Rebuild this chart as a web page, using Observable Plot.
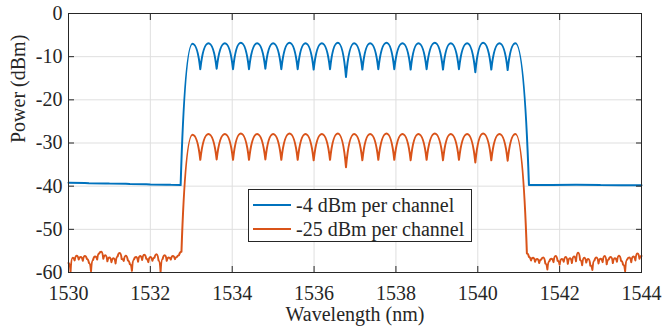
<!DOCTYPE html>
<html>
<head>
<meta charset="utf-8">
<script src="https://cdn.jsdelivr.net/npm/d3@7"></script>
<script src="https://cdn.jsdelivr.net/npm/@observablehq/plot@0.6"></script>
<style>
  html, body { margin: 0; padding: 0; background: #fff; }
  #wrap { position: relative; width: 664px; height: 332px; font-family: "Liberation Serif", "Times New Roman", Tinos, "DejaVu Serif", serif; }
  #chart svg, #chart svg text { font-family: "Liberation Serif", "Times New Roman", Tinos, "DejaVu Serif", serif !important; }
  #legend { position: absolute; left: 248px; top: 189px; width: 224px; height: 53px; border: 1px solid #262626; background: #fff; box-sizing: border-box; font-size: 20px; color: #262626; }
  .row { position: absolute; left: 0; height: 24px; display: flex; align-items: center; white-space: nowrap; }
  .sw { width: 38px; height: 0; border-top: 2px solid; margin-left: 4px; margin-right: 5px; }
</style>
</head>
<body>
<div id="wrap">
  <div id="chart"></div>
  <div id="legend"></div>
</div>
<script>
// ---- Data ----
const seriesNames = ["-4 dBm per channel", "-25 dBm per channel"];
const seriesColors = ["#0072BD", "#D95319"];
const xTicks = [1530, 1532, 1534, 1536, 1538, 1540, 1542, 1544];
const yTicks = [-60, -50, -40, -30, -20, -10, 0];

// channel peaks (50 GHz grid) and dips between them, nm
const peakWl = [1533.03, 1533.42, 1533.82, 1534.21, 1534.61, 1535.00, 1535.40, 1535.79, 1536.19, 1536.58, 1536.98,
                1537.37, 1537.77, 1538.16, 1538.55, 1538.95, 1539.34, 1539.74, 1540.13, 1540.53, 1540.92];
const dipWl = [1533.22, 1533.62, 1534.02, 1534.41, 1534.81, 1535.20, 1535.60, 1535.99, 1536.39, 1536.78,
               1537.18, 1537.57, 1537.96, 1538.36, 1538.75, 1539.15, 1539.54, 1539.94, 1540.33, 1540.73];

const bluePeak = [-7.0, -6.9, -6.9, -6.8, -6.9, -6.9, -6.8, -6.9, -6.9, -6.8, -6.9,
                  -6.9, -6.8, -6.9, -6.9, -6.8, -6.9, -6.9, -6.8, -6.9, -6.9];
const blueDip = [-12.9, -12.8, -12.9, -12.9, -12.8, -12.9, -12.9, -13.0, -12.9, -14.7,
                 -13.0, -12.9, -12.9, -13.0, -12.9, -13.0, -12.9, -13.6, -13.0, -13.1];
const orangePeak = [-28.1, -27.9, -27.9, -27.8, -27.9, -27.9, -27.8, -27.9, -27.9, -27.8, -27.9,
                    -27.9, -27.8, -27.9, -27.9, -27.8, -27.9, -27.9, -27.8, -27.9, -27.9];
const orangeDip = [-33.9, -33.8, -33.9, -33.9, -33.8, -33.9, -33.9, -34.0, -33.9, -35.6,
                   -34.0, -33.9, -33.9, -34.0, -33.9, -34.0, -33.9, -34.5, -34.0, -34.1];

// out-of-band levels
const blueLeftWl = [1530.0, 1530.5, 1531.0, 1531.5, 1532.0, 1532.5, 1532.74];
const blueLeft = [-39.2, -39.3, -39.4, -39.5, -39.6, -39.7, -39.75];
const blueRightWl = [1541.25, 1541.8, 1542.4, 1543.0, 1543.5, 1544.0];
const blueRight = [-39.75, -39.75, -39.7, -39.75, -39.8, -39.8];

const orangeLeftWl = [1530.00, 1530.05, 1530.10, 1530.15, 1530.20, 1530.25, 1530.30, 1530.35, 1530.40, 1530.45,
  1530.50, 1530.55, 1530.60, 1530.65, 1530.70, 1530.75, 1530.80, 1530.85, 1530.90, 1530.95,
  1531.00, 1531.05, 1531.10, 1531.15, 1531.20, 1531.25, 1531.30, 1531.35, 1531.40, 1531.45,
  1531.50, 1531.55, 1531.60, 1531.65, 1531.70, 1531.75, 1531.80, 1531.85, 1531.90, 1531.95,
  1532.00, 1532.05, 1532.10, 1532.15, 1532.20, 1532.25, 1532.30, 1532.35, 1532.40, 1532.45,
  1532.50, 1532.55, 1532.60, 1532.65, 1532.70, 1532.76];
const orangeLeft = [-57.8, -59.8, -56.6, -57.2, -56.1, -57.0, -56.4, -57.3, -56.2, -56.9,
  -57.8, -59.7, -57.1, -56.3, -57.0, -55.6, -55.2, -56.8, -56.0, -57.4,
  -56.5, -57.6, -56.7, -57.9, -56.3, -55.5, -56.9, -57.3, -56.1, -57.2,
  -58.1, -59.6, -57.0, -56.4, -57.5, -56.2, -57.1, -55.9, -56.8, -57.6,
  -56.4, -57.3, -56.6, -55.8, -57.2, -59.8, -56.9, -56.0, -57.3, -56.5,
  -57.0, -56.2, -56.9, -56.4, -56.0, -55.2];
const orangeRightWl = [1541.20, 1541.25, 1541.30, 1541.35, 1541.40, 1541.45, 1541.50, 1541.55, 1541.60, 1541.65,
  1541.70, 1541.75, 1541.80, 1541.85, 1541.90, 1541.95, 1542.00, 1542.05, 1542.10, 1542.15,
  1542.20, 1542.25, 1542.30, 1542.35, 1542.40, 1542.45, 1542.50, 1542.55, 1542.60, 1542.65,
  1542.70, 1542.75, 1542.80, 1542.85, 1542.90, 1542.95, 1543.00, 1543.05, 1543.10, 1543.15,
  1543.20, 1543.25, 1543.30, 1543.35, 1543.40, 1543.45, 1543.50, 1543.55, 1543.60, 1543.65,
  1543.70, 1543.75, 1543.80, 1543.85, 1543.90, 1543.95, 1544.00];
const orangeRight = [-55.6, -56.4, -57.2, -56.6, -57.5, -56.9, -57.8, -57.0, -56.5, -57.9,
  -59.3, -57.4, -56.8, -57.6, -56.2, -57.3, -58.2, -56.9, -57.5, -56.4,
  -58.0, -56.7, -57.8, -56.3, -57.4, -55.4, -57.1, -58.3, -56.6, -57.7,
  -56.9, -58.4, -59.4, -57.2, -56.5, -57.9, -56.8, -57.6, -56.2, -58.1,
  -57.0, -56.4, -57.8, -56.7, -57.5, -56.1, -57.3, -58.2, -59.7, -57.0,
  -56.5, -57.6, -56.3, -57.2, -55.6, -56.8, -56.2];

// ---- build tables ----
function build(lw, lv, pv, dv, rw, rv) {
  const rows = [];
  lw.forEach((w, i) => rows.push({wl: w, p: lv[i]}));
  peakWl.forEach((w, i) => rows.push({wl: w, p: pv[i]}));
  dipWl.forEach((w, i) => rows.push({wl: w, p: dv[i]}));
  rw.forEach((w, i) => rows.push({wl: w, p: rv[i]}));
  return rows.sort((a, b) => a.wl - b.wl);
}
const blue = build(blueLeftWl, blueLeft, bluePeak, blueDip, blueRightWl, blueRight);
const orange = build(orangeLeftWl, orangeLeft, orangePeak, orangeDip, orangeRightWl, orangeRight);

// curve: rounded maxima, pointed minima (style of the ripple trace)
function arch(context) {
  let pts = [];
  return {
    areaStart() {}, areaEnd() {},
    lineStart() { pts = []; },
    point(x, y) { pts.push([+x, +y]); },
    lineEnd() {
      if (!pts.length) return;
      context.moveTo(pts[0][0], pts[0][1]);
      for (let i = 1; i < pts.length; i++) {
        const [x0, y0] = pts[i - 1], [x1, y1] = pts[i];
        const dx = x1 - x0, dy = y1 - y0;
        if (dy < 0) context.bezierCurveTo(x0 + 0.2 * dx, y0 + 0.55 * dy, x1 - 0.5 * dx, y1, x1, y1);
        else context.bezierCurveTo(x0 + 0.5 * dx, y0, x1 - 0.2 * dx, y1 - 0.55 * dy, x1, y1);
      }
    }
  };
}

const ink = "#262626";
const grid = "#dfdfdf";
const serif = "'Liberation Serif', 'Times New Roman', Tinos, 'DejaVu Serif', serif";
const chart = Plot.plot({
  width: 664, height: 332,
  marginLeft: 68, marginRight: 23, marginTop: 13, marginBottom: 60,
  style: {fontFamily: serif, fontSize: "20px", color: ink, background: "white"},
  x: {domain: [1530, 1544]},
  y: {domain: [-60, 0]},
  marks: [
    Plot.gridX(xTicks, {stroke: grid, strokeOpacity: 1}),
    Plot.gridY(yTicks, {stroke: grid, strokeOpacity: 1}),
    Plot.line(blue, {x: "wl", y: "p", stroke: seriesColors[0], strokeWidth: 2, curve: arch}),
    Plot.line(orange, {x: "wl", y: "p", stroke: seriesColors[1], strokeWidth: 2, curve: arch}),
    Plot.frame({stroke: ink}),
    Plot.axisX(xTicks, {anchor: "bottom", tickSize: 0, tickPadding: 13, tickFormat: d => String(d), label: null, fontSize: 20}),
    Plot.axisX(xTicks, {anchor: "bottom", tickSize: 6, dy: -6, tickFormat: () => "", label: null, stroke: ink}),
    Plot.axisX(xTicks, {anchor: "top", tickSize: 6, dy: 6, tickFormat: () => "", label: null, stroke: ink}),
    Plot.axisY(yTicks, {anchor: "left", tickSize: 0, tickPadding: 6, tickFormat: d => String(d), label: null, fontSize: 20}),
    Plot.axisY(yTicks, {anchor: "left", tickSize: 6, dx: 6, tickFormat: () => "", label: null, stroke: ink}),
    Plot.axisY(yTicks, {anchor: "right", tickSize: 6, dx: -6, tickFormat: () => "", label: null, stroke: ink}),
    Plot.text(["Wavelength (nm)"], {text: d => d, frameAnchor: "bottom", dy: 48, fontSize: 20, fill: ink}),
    Plot.text(["Power (dBm)"], {text: d => d, frameAnchor: "left", dx: -50, rotate: -90, fontSize: 20, fill: ink})
  ]
});
document.getElementById("chart").appendChild(chart);

// legend
const legend = document.getElementById("legend");
seriesNames.forEach((name, i) => {
  const row = document.createElement("div");
  row.className = "row";
  row.style.top = (3 + i * 24) + "px";
  const sw = document.createElement("div");
  sw.className = "sw";
  sw.style.borderColor = seriesColors[i];
  const t = document.createElement("span");
  t.textContent = name;
  row.appendChild(sw);
  row.appendChild(t);
  legend.appendChild(row);
});
</script>
</body>
</html>
